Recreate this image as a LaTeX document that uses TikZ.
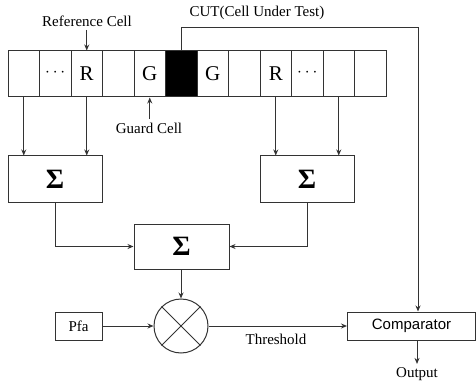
\documentclass[tikz,border=0pt]{standalone}
\usepackage{fontspec}
\setmainfont{Liberation Serif}
\newfontfamily\arialf{Liberation Sans}
\usetikzlibrary{arrows.meta}
\begin{document}
\begin{tikzpicture}[x=1pt,y=-1pt,
  line width=1pt,
  lc/.style={draw=black!80},
  cellbox/.style={lc, minimum width=31.5pt, minimum height=46pt, inner sep=0pt, font=\fontsize{21}{21}\selectfont},
  sumbox/.style={lc, minimum width=94pt, minimum height=46pt, inner sep=0pt, font=\fontsize{28}{28}\selectfont\bfseries},
  smallbox/.style={lc, minimum height=28pt, inner sep=0pt, font=\fontsize{15}{15}\selectfont},
  lbl/.style={font=\fontsize{15}{15}\selectfont, inner sep=0pt},
  arr/.style={black!80, -{Stealth[length=6pt,width=5pt]}},
  ln/.style={black!80}]
\useasboundingbox (0,0) rectangle (476,382);
% cells
\foreach \i/\t in {1/{},2/{\raisebox{3pt}{\fontsize{17}{17}\selectfont$\cdots$}},3/R,4/{},5/G,7/G,8/{},9/R,10/{\raisebox{3pt}{\fontsize{17}{17}\selectfont$\cdots$}},11/{},12/{}}{
  \node[cellbox] (c\i) at ({8+31.5*(\i-0.5)},74) {\t};
}
\node[cellbox, fill=black] (c6) at ({8+31.5*5.5},74) {};
% labels on top
\node[lbl] (refl) at (87,21) {Reference Cell};
\draw[arr] (refl.south -| c3.north) ++(0,3) coordinate (rs) -- (c3.north);
\node[lbl] (cutl) at (257,13) {CUT(Cell Under Test)};
\node[lbl] (guardl) at (149,128) {Guard Cell};
\draw[arr] (guardl.north -| c5.south) ++(0,-3) -- (c5.south);
% sum boxes
\node[sumbox] (s1) at (55,179) {Σ};
\node[sumbox] (s2) at (307,179) {Σ};
\node[sumbox, minimum width=95pt, minimum height=45pt] (s3) at (181.5,246.5) {Σ};
\draw[arr] (c1.south) -- (c1.south |- s1.north);
\draw[arr] (c3.south) -- (c3.south |- s1.north);
\draw[arr] (c9.south) -- (c9.south |- s2.north);
\draw[arr] (c11.south) -- (c11.south |- s2.north);
\draw[arr] (s1.south) |- (s3.west);
\draw[arr] (s2.south) |- (s3.east);
% multiplier
\node[lc, circle, minimum size=54pt, inner sep=0pt] (mult) at (181,326) {};
\draw[ln] (mult.north west) -- (mult.south east);
\draw[ln] (mult.north east) -- (mult.south west);
\draw[arr] (s3.south -| mult.north) -- (mult.north);
\node[smallbox, minimum width=47pt] (pfa) at (78.5,326) {Pfa};
\draw[arr] (pfa.east) -- (mult.west);
\node[smallbox, minimum width=128pt, font=\fontsize{15}{15}\selectfont\arialf] (comp) at (411.5,326) {Comparator};
\draw[arr] (mult.east) -- (comp.west);
\node[lbl] (thr) at (276,339) {Threshold};
% CUT line
\coordinate (cutc) at (418,28);
\draw[arr] (c6.north) |- (cutc) -- (comp.north -| cutc);
% output
\node[lbl] (outl) at (417,374) {Output};
\draw[arr, shorten >=3pt] (comp.south -| outl) -- (outl.north);
\end{tikzpicture}
\end{document}
